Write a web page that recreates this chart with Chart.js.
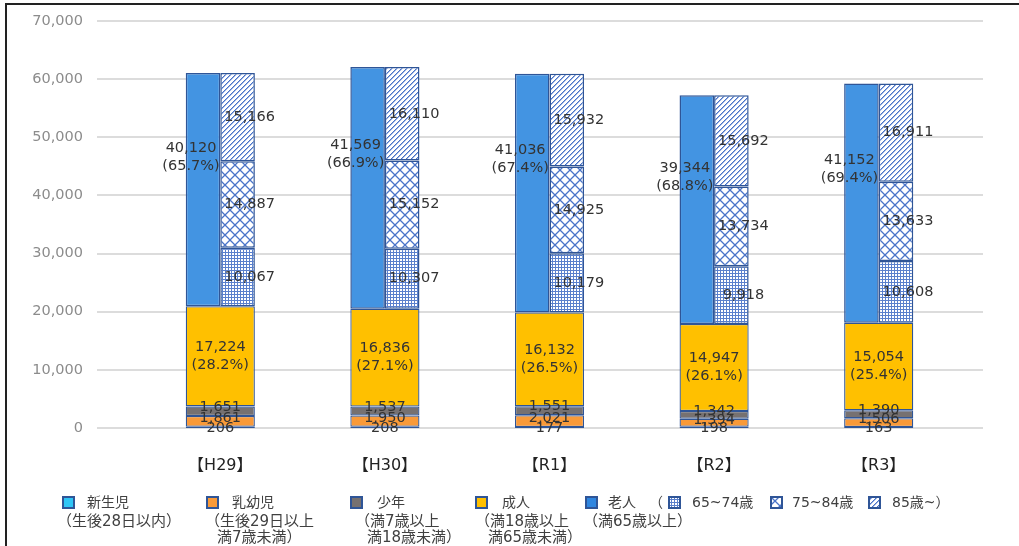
<!DOCTYPE html>
<html><head><meta charset="utf-8">
<script src="https://cdn.jsdelivr.net/npm/chart.js@4.4.1/dist/chart.umd.min.js"></script>
<style>
html,body{margin:0;padding:0;background:#fff;}
#wrap{position:relative;width:1019px;height:546px;overflow:hidden;}
#frame{position:absolute;left:5px;top:3px;width:1100px;height:600px;border-top:2px solid #222;border-left:2px solid #222;pointer-events:none;}
.lg{position:absolute;font-family:"DejaVu Sans","Noto Sans CJK JP",sans-serif;font-size:14px;color:#404040;white-space:nowrap;line-height:15px;}
.lg.note{font-size:15px;}
.sw{position:absolute;width:13px;height:13px;}
</style></head><body>
<div id="wrap">
<canvas id="c" width="1019" height="546"></canvas>
<div id="legend"></div>
<div id="frame"></div>
</div>
<script>
// ---- data ----
const categories = ['【H29】','【H30】','【R1】','【R2】','【R3】'];
const newborn    = [206, 208, 177, 198, 163];
const infant     = [1861, 1950, 2021, 1394, 1506];
const youth      = [1651, 1537, 1551, 1342, 1390];
const adult      = [17224, 16836, 16132, 14947, 15054];
const adultPct   = [28.2, 27.1, 26.5, 26.1, 25.4];
const elderly    = [40120, 41569, 41036, 39344, 41152];
const elderlyPct = [65.7, 66.9, 67.4, 68.8, 69.4];
const age65to74  = [10067, 10307, 10179, 9918, 10608];
const age75to84  = [14887, 15152, 14925, 13734, 13633];
const age85plus  = [15166, 16110, 15932, 15692, 16911];
const yMin = 0, yMax = 70000, yStep = 10000;

const seriesNames = ['新生児','乳幼児','少年','成人','老人','65~74歳','75~84歳','85歳~'];
const seriesNotes = [['（生後28日以内）'],['（生後29日以上','満7歳未満）'],['（満7歳以上','満18歳未満）'],['（満18歳以上','満65歳未満）'],['（満65歳以上）']];

const baseTotal = categories.map((_, i) => newborn[i] + infant[i] + youth[i] + adult[i]);
const fmt = v => v.toLocaleString('en-US');

// ---- patterns ----
const BLUE = '#4a74c8';
function makePattern(kind) {
  const c = document.createElement('canvas');
  const n = kind === 'dots' ? 3 : kind === 'diamond' ? 10 : 5;
  c.width = c.height = n;
  const g = c.getContext('2d');
  g.fillStyle = '#fff'; g.fillRect(0, 0, n, n);
  if (kind === 'dots') {
    g.fillStyle = '#5a80cc';
    g.fillRect(0, 0, n, 1); g.fillRect(0, 0, 1, n);
  } else if (kind === 'diamond') {
    g.strokeStyle = BLUE; g.lineWidth = 1.3;
    g.beginPath(); g.moveTo(0, 0); g.lineTo(n, n); g.moveTo(n, 0); g.lineTo(0, n); g.stroke();
  } else {
    g.fillStyle = BLUE;
    for (let i = 0; i < n; i++) { g.fillRect(i, n - 1 - i, 1, 1); }
    g.fillStyle = '#9db4e4';
    for (let i = 0; i < n; i++) { g.fillRect(i, (n - i) % n, 1, 1); }
  }
  return c;
}
const ctx0 = document.getElementById('c').getContext('2d');
const tiles = { dots: makePattern('dots'), diamond: makePattern('diamond'), stripe: makePattern('stripe') };
const pat = k => ctx0.createPattern(tiles[k], 'repeat');

const BORDER = '#2F5597';
// full-width bottom bar (not grouped -> centred on category)
const baseDs = { stack: 'base', grouped: false, borderColor: BORDER, borderWidth: 1.3, borderSkipped: false, categoryPercentage: 1, barPercentage: 0.42 };
// left / right half bars (grouped side by side: stack L and stack R)
const sideDs = { grouped: true, borderColor: BORDER, borderWidth: 1.5, borderSkipped: false, categoryPercentage: 0.42, barPercentage: 1 };
const spacer = stack => ({ ...sideDs, stack, label: '_sp' + stack, data: baseTotal, backgroundColor: 'rgba(0,0,0,0)', borderWidth: 0 });

const datasets = [
  { ...baseDs, label: seriesNames[0], data: newborn, backgroundColor: '#2FC6F6', segLabel: i => [fmt(newborn[i])], labelDy: 1 },
  { ...baseDs, label: seriesNames[1], data: infant, backgroundColor: '#F99A38', segLabel: i => [fmt(infant[i])], labelDy: -3 },
  { ...baseDs, label: seriesNames[2], data: youth, backgroundColor: '#767171', segLabel: i => [fmt(youth[i])], labelDy: -4 },
  { ...baseDs, label: seriesNames[3], data: adult, backgroundColor: '#FFC000', segLabel: i => [fmt(adult[i]), '(' + adultPct[i].toFixed(1) + '%)'] },
  spacer('L'),
  { ...sideDs, stack: 'L', label: seriesNames[4], data: elderly, backgroundColor: '#4394E2', segLabel: i => [fmt(elderly[i]), '(' + elderlyPct[i].toFixed(1) + '%)'], labelFrac: 0.36, labelDx: -12 },
  spacer('R'),
  { ...sideDs, stack: 'R', label: seriesNames[5], data: age65to74, backgroundColor: pat('dots'), segLabel: i => [fmt(age65to74[i])], labelDx: 12 },
  { ...sideDs, stack: 'R', label: seriesNames[6], data: age75to84, backgroundColor: pat('diamond'), segLabel: i => [fmt(age75to84[i])], labelDx: 12 },
  { ...sideDs, stack: 'R', label: seriesNames[7], data: age85plus, backgroundColor: pat('stripe'), segLabel: i => [fmt(age85plus[i])], labelDx: 12 }
];

const gridPlugin = {
  id: 'extGrid',
  beforeDatasetsDraw(chart) {
    const { ctx, chartArea, scales: { y } } = chart;
    ctx.save();
    ctx.strokeStyle = '#d0d0d0'; ctx.lineWidth = 1.5;
    y.ticks.forEach(t => {
      const py = Math.round(y.getPixelForValue(t.value));
      ctx.beginPath(); ctx.moveTo(chartArea.left - 41, py); ctx.lineTo(chartArea.right + 22, py); ctx.stroke();
    });
    ctx.restore();
  }
};

const labelPlugin = {
  id: 'segLabels',
  afterDatasetsDraw(chart) {
    const ctx = chart.ctx;
    ctx.save();
    ctx.font = '14.5px "DejaVu Sans", Verdana, sans-serif';
    ctx.fillStyle = '#333';
    ctx.textAlign = 'center'; ctx.textBaseline = 'middle';
    chart.data.datasets.forEach((ds, di) => {
      if (!ds.segLabel) return;
      chart.getDatasetMeta(di).data.forEach((bar, i) => {
        const { x, y, base } = bar.getProps(['x', 'y', 'base'], true);
        const top = Math.min(y, base), h = Math.abs(base - y);
        const cy = top + h * (ds.labelFrac ?? 0.5) + (ds.labelDy || 0);
        const cx = x + (ds.labelDx || 0);
        const lines = ds.segLabel(i);
        lines.forEach((t, k) => ctx.fillText(t, cx, cy + (k - (lines.length - 1) / 2) * 18));
      });
    });
    ctx.restore();
  }
};

new Chart(document.getElementById('c'), {
  type: 'bar',
  data: { labels: categories, datasets },
  options: {
    responsive: false, animation: false,
    layout: { padding: { left: 0, top: 21, right: 58, bottom: 71 } },
    plugins: { legend: { display: false }, tooltip: { enabled: false } },
    scales: {
      x: {
        type: 'category', offset: true, position: 'bottom',
        grid: { display: false, drawTicks: false }, border: { display: false },
        ticks: { padding: 28, color: '#222', font: { family: '"DejaVu Sans", "Noto Sans CJK JP"', size: 16 } },
        afterFit: s => { s.height = 47; s.paddingLeft = 0; s.paddingRight = 0; }
      },
      y: {
        stacked: true, min: yMin, max: yMax,
        grid: { display: false, drawTicks: false }, border: { display: false },
        ticks: { stepSize: yStep, padding: 55, color: '#8c8c8c', font: { family: '"DejaVu Sans", Verdana, sans-serif', size: 14.5 }, callback: v => fmt(v) },
        afterFit: s => { s.width = 138; s.paddingTop = 0; s.paddingBottom = 0; }
      }
    }
  },
  plugins: [gridPlugin, labelPlugin]
});

// ---- legend (HTML) ----
const legend = document.getElementById('legend');
function addText(t, left, top, cls) { const d = document.createElement('div'); d.className = 'lg' + (cls ? ' ' + cls : ''); d.style.left = left + 'px'; d.style.top = top + 'px'; d.textContent = t; legend.appendChild(d); }
function addSwatch(fill, left, top) {
  const c = document.createElement('canvas'); c.className = 'sw'; c.width = 13; c.height = 13;
  c.style.left = left + 'px'; c.style.top = top + 'px';
  const g = c.getContext('2d');
  g.fillStyle = typeof fill === 'string' ? fill : g.createPattern(fill, 'repeat'); g.fillRect(0, 0, 13, 13);
  g.strokeStyle = BORDER; g.lineWidth = 2; g.strokeRect(1, 1, 11, 11);
  legend.appendChild(c);
}
const swTop = 496, r1 = 494.5, r2 = 514, r3 = 529.5;
const solid = ['#2FC6F6', '#F99A38', '#767171', '#FFC000', '#2F86E0'];
const boxX = [62, 206, 350, 475, 585];
const nameX = [87, 232, 377, 502, 608];
const noteX = [[57], [205, 217], [355, 367], [475, 488], [583]];
for (let k = 0; k < 5; k++) {
  addSwatch(solid[k], boxX[k], swTop);
  addText(seriesNames[k], nameX[k], r1);
  seriesNotes[k].forEach((t, j) => addText(t, noteX[k][j], j === 0 ? r2 : r3, 'note'));
}
addText('（', 649, r1);
addSwatch(tiles.dots, 668, swTop); addText(seriesNames[5], 692, r1);
addSwatch(tiles.diamond, 770, swTop); addText(seriesNames[6], 792, r1);
addSwatch(tiles.stripe, 868, swTop); addText(seriesNames[7] + '）', 892, r1);
</script>
</body></html>
